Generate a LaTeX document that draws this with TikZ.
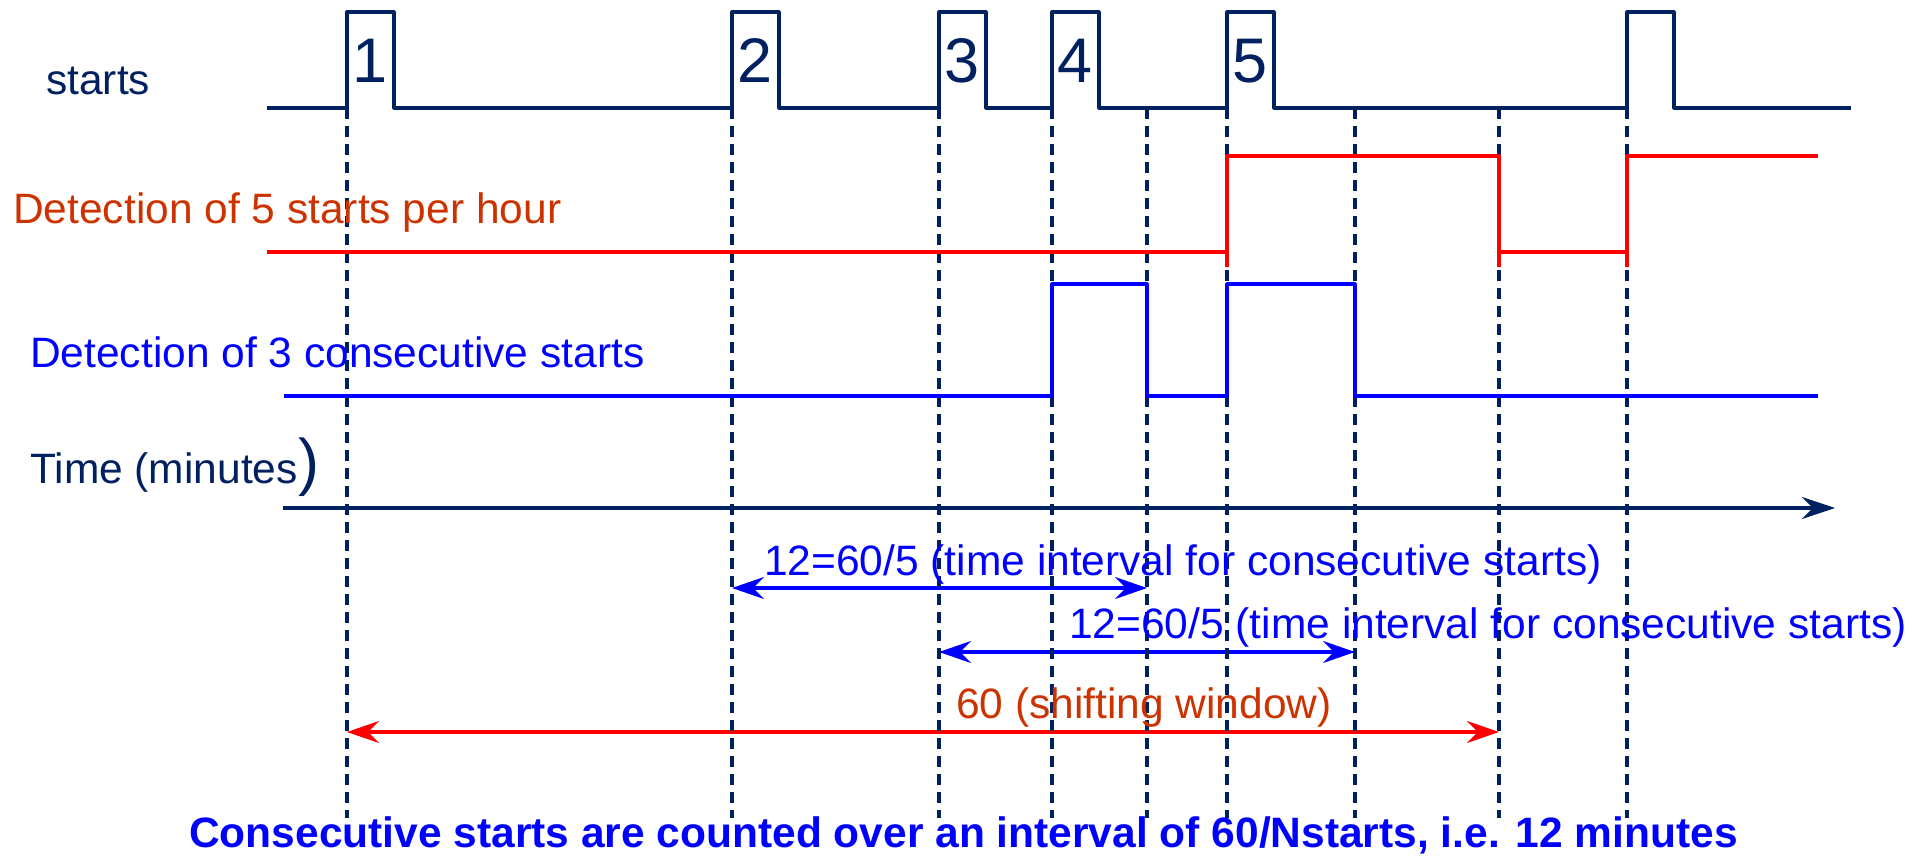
\documentclass[tikz,border=0pt]{standalone}
\usepackage{fontspec}
\setmainfont{Liberation Sans}
\usetikzlibrary{arrows.meta}
\definecolor{navy}{RGB}{0,32,96}
\definecolor{orred}{RGB}{204,51,0}
\definecolor{pblue}{RGB}{0,0,255}
\definecolor{pred}{RGB}{255,0,0}
\begin{document}
\begin{tikzpicture}[x=1pt,y=-1pt,
  lbl/.style={inner sep=0pt, anchor=base west, font=\fontsize{42.5}{50}\selectfont},
  dig/.style={inner sep=0pt, anchor=base, font=\fontsize{63}{70}\selectfont, text=navy},
  wave/.style={line width=3.2pt, line join=round},
  guide/.style={navy, line width=3.1pt, dash pattern=on 11pt off 7pt},
  dimarrow/.style={line width=3.2pt, >={Stealth[length=32pt,width=22pt,inset=11pt]}, <->},
  axisarrow/.style={navy, line width=3.2pt, >={Stealth[length=33pt,width=22pt,inset=11pt]}, ->},
]
\useasboundingbox (0,0) rectangle (1930,856);

% time axis
\coordinate (ax0) at (283,508);
\coordinate (ax1) at (1835,508);
\draw[axisarrow] (ax0) -- (ax1);

% dimension arrows
\coordinate (a1s) at (732,588);
\coordinate (a1e) at (1147,588);
\coordinate (a2s) at (939,652);
\coordinate (a2e) at (1355,652);
\coordinate (a3s) at (347,732);
\coordinate (a3e) at (1499,732);
\draw[dimarrow, pblue] (a1s) -- (a1e);
\draw[dimarrow, pblue] (a2s) -- (a2e);
\draw[dimarrow, pred] (a3s) -- (a3e);

% guide lines
\foreach \gx [count=\i] in {347,732,939,1052,1147,1227,1355,1499,1627} {
  \coordinate (g\i t) at (\gx,108);
  \coordinate (g\i b) at (\gx,818);
  \draw[guide] (g\i t) -- (g\i b);
}

% starts waveform
\draw[wave, navy] (267,108) -- (347,108) |- (394,12) |- (732,108) |- (779,12) |- (939,108)
  |- (986,12) |- (1052,108) |- (1099,12) |- (1227,108) |- (1274,12) |- (1627,108)
  |- (1674,12) |- (1851,108);

% 5 starts per hour detection
\draw[wave, pred] (267,252) -- (1227,252);
\draw[wave, pred] (1227,267) |- (1499,156) -- (1499,267);
\draw[wave, pred] (1499,252) -- (1627,252);
\draw[wave, pred] (1627,267) |- (1818,156);

% 3 consecutive starts detection
\draw[wave, pblue] (284,396) -- (1052,396) |- (1147,284) |- (1227,396)
  |- (1355,284) |- (1818,396);

% labels
\node[lbl, text=navy] (lstarts) at (46,95) {starts};
\node[lbl, text=orred] (ldet5) at (13,223) {Detection of 5 starts per hour};
\node[lbl, text=pblue] (ldet3) at (30,367) {Detection of 3 consecutive starts};
\node[lbl, text=navy] (ltime) at (30,483) {Time (minutes};
\node[inner sep=0pt, anchor=base west, text=navy, font=\fontsize{63}{70}\selectfont] (lparen) at (298,483) {)};

% pulse numbers
\node[dig] (n1) at (370.5,83) {1};
\node[dig] (n2) at (755.5,83) {2};
\node[dig] (n3) at (962.5,83) {3};
\node[dig] (n4) at (1075.5,83) {4};
\node[dig] (n5) at (1250.5,83) {5};

\node[lbl, text=pblue] (ld1) at (764,575) {12=60/5 (time interval for consecutive starts)};
\node[lbl, text=pblue] (ld2) at (1069,638) {12=60/5 (time interval for consecutive starts)};
\node[lbl, text=orred] (ld3) at (956,718) {60 (shifting window)};

% bottom note
\node[lbl, text=pblue, font=\fontsize{42.5}{50}\selectfont\bfseries] (note) at (189,847)
  {Consecutive starts are counted over an interval of 60/Nstarts, i.e. 12 minutes};
\end{tikzpicture}
\end{document}
